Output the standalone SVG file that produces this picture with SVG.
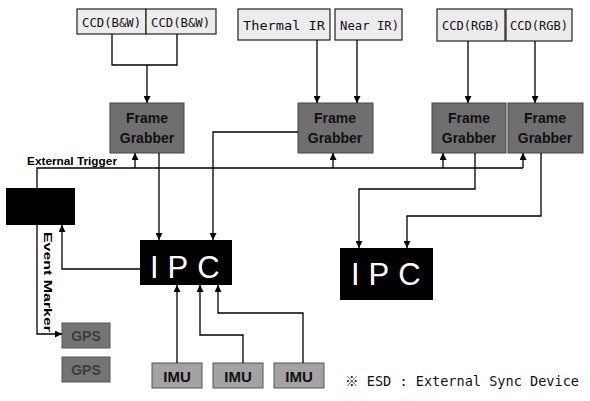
<svg xmlns="http://www.w3.org/2000/svg" width="590" height="401" viewBox="0 0 590 401">
<defs>
<marker id="ah" viewBox="0 0 10 10" refX="10" refY="5" markerWidth="7" markerHeight="7" markerUnits="userSpaceOnUse" orient="auto">
<path d="M0,0 L10,5 L0,10 z" fill="#000"/>
</marker>
<style>
.cam{fill:#ececec;stroke:#222;stroke-width:1.2}
.camt{font-family:"DejaVu Sans Mono","Liberation Mono",monospace;font-size:12px;fill:#111}
.fg{fill:#6f6f6f;stroke:#444;stroke-width:1}
.fgt{font-family:"Liberation Sans",Arial,sans-serif;font-weight:bold;font-size:14px;fill:#111;text-anchor:middle}
.ipc{fill:#000}
.ipct{font-family:"Liberation Sans",Arial,sans-serif;font-size:31px;fill:#fff;letter-spacing:9px}
.imu{fill:#a3a3a3;stroke:#555;stroke-width:1}
.imut{font-family:"Liberation Sans",Arial,sans-serif;font-weight:bold;font-size:15px;fill:#111;text-anchor:middle}
.gps{fill:#747474;stroke:#555;stroke-width:1}
.gpst{font-family:"Liberation Sans",Arial,sans-serif;font-weight:bold;font-size:14px;fill:#3c3c3c;text-anchor:middle}
.lbl{font-family:"Liberation Sans",Arial,sans-serif;font-weight:bold;font-size:11px;fill:#000}
.c{fill:none;stroke:#000;stroke-width:1.3}
.ca{fill:none;stroke:#000;stroke-width:1.3;marker-end:url(#ah)}
.note{font-family:"DejaVu Sans Mono","Liberation Mono","Noto Sans CJK KR",monospace;font-size:14px;fill:#111}
</style>
</defs>
<rect width="590" height="401" fill="#fff"/>

<g id="cam1"><rect class="cam" x="77" y="9" width="69" height="25"/><text class="camt" x="82" y="27" textLength="59" lengthAdjust="spacingAndGlyphs">CCD(B&amp;W)</text></g>
<g id="cam2"><rect class="cam" x="146" y="9" width="70" height="25"/><text class="camt" x="151" y="27" textLength="59" lengthAdjust="spacingAndGlyphs">CCD(B&amp;W)</text></g>
<g id="cam3"><rect class="cam" x="238" y="9" width="92" height="31"/><text class="camt" x="243" y="30" textLength="82" lengthAdjust="spacingAndGlyphs">Thermal IR</text></g>
<g id="cam4"><rect class="cam" x="335" y="9" width="67" height="31"/><text class="camt" x="340" y="30" textLength="59" lengthAdjust="spacingAndGlyphs">Near IR)</text></g>
<g id="cam5"><rect class="cam" x="437" y="9" width="68" height="32"/><text class="camt" x="442" y="30" textLength="58" lengthAdjust="spacingAndGlyphs">CCD(RGB)</text></g>
<g id="cam6"><rect class="cam" x="506" y="9" width="66" height="32"/><text class="camt" x="510" y="30" textLength="58" lengthAdjust="spacingAndGlyphs">CCD(RGB)</text></g>

<g id="fg1"><rect class="fg" x="110" y="103" width="74" height="50"/><text class="fgt" x="147" y="123">Frame</text><text class="fgt" x="147" y="143">Grabber</text></g>
<g id="fg2"><rect class="fg" x="298" y="103" width="75" height="50"/><text class="fgt" x="335" y="123">Frame</text><text class="fgt" x="335" y="143">Grabber</text></g>
<g id="fg3"><rect class="fg" x="432" y="103" width="74" height="50"/><text class="fgt" x="469" y="123">Frame</text><text class="fgt" x="469" y="143">Grabber</text></g>
<g id="fg4"><rect class="fg" x="508" y="103" width="75" height="50"/><text class="fgt" x="545" y="123">Frame</text><text class="fgt" x="545" y="143">Grabber</text></g>

<g id="esd"><rect class="ipc" x="6" y="188" width="69" height="37"/></g>

<g id="ipc1"><rect class="ipc" x="140" y="240" width="92" height="45"/><text class="ipct" x="150" y="278">IPC</text></g>
<g id="ipc2"><rect class="ipc" x="340" y="248" width="93" height="52"/><text class="ipct" x="351" y="285">IPC</text></g>

<g id="gps1"><rect class="gps" x="62" y="323" width="48" height="25"/><text class="gpst" x="86" y="341">GPS</text></g>
<g id="gps2"><rect class="gps" x="62" y="357" width="48" height="25"/><text class="gpst" x="86" y="375">GPS</text></g>

<g id="imu1"><rect class="imu" x="152" y="363" width="50" height="25"/><text class="imut" x="177" y="382">IMU</text></g>
<g id="imu2"><rect class="imu" x="213" y="363" width="50" height="25"/><text class="imut" x="238" y="382">IMU</text></g>
<g id="imu3"><rect class="imu" x="274" y="363" width="50" height="25"/><text class="imut" x="299" y="382">IMU</text></g>

<g id="connectors">
<polyline class="c" points="112,34 112,65 177,65 177,34"/>
<line class="ca" x1="147" y1="65" x2="147" y2="103"/>
<line class="ca" x1="317" y1="40" x2="317" y2="103"/>
<line class="ca" x1="357" y1="40" x2="357" y2="103"/>
<line class="ca" x1="468" y1="41" x2="468" y2="103"/>
<line class="ca" x1="535" y1="41" x2="535" y2="103"/>
<polyline class="c" points="37,188 37,168 523,168"/>
<line class="ca" x1="135" y1="168" x2="135" y2="153"/>
<line class="ca" x1="333" y1="168" x2="333" y2="153"/>
<line class="ca" x1="443" y1="168" x2="443" y2="153"/>
<line class="ca" x1="523" y1="168" x2="523" y2="153"/>
<line class="ca" x1="159" y1="153" x2="159" y2="240"/>
<polyline class="ca" points="298,132 213,132 213,240"/>
<polyline class="ca" points="475,153 475,189 359,189 359,248"/>
<polyline class="ca" points="541,153 541,216 407,216 407,248"/>
<polyline class="ca" points="140,269 62,269 62,225"/>
<polyline class="ca" points="37,225 37,334 62,334"/>
<line class="ca" x1="177" y1="363" x2="177" y2="285"/>
<polyline class="ca" points="243,363 243,335 200,335 200,285"/>
<polyline class="ca" points="303,363 303,313 218,313 218,285"/>
</g>

<text class="lbl" x="27" y="165" textLength="90" lengthAdjust="spacingAndGlyphs">External Trigger</text>
<text class="lbl" transform="translate(44,232) rotate(90)" x="0" y="0" textLength="100" lengthAdjust="spacingAndGlyphs">Event Marker</text>
<text class="note" x="345" y="386" textLength="234" lengthAdjust="spacingAndGlyphs">※ ESD : External Sync Device</text>
</svg>
